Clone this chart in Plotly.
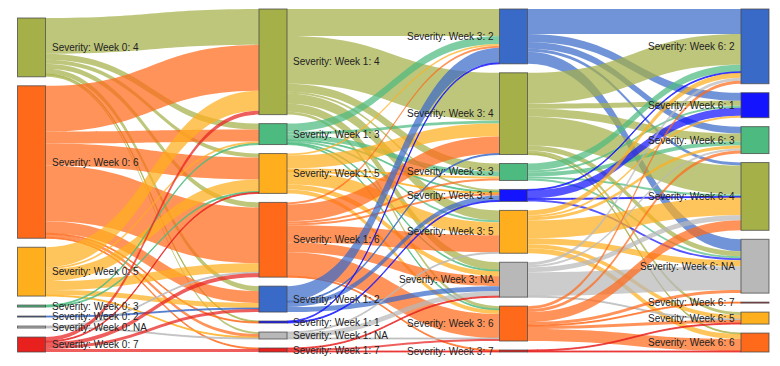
import plotly.graph_objects as go

# ---------------- data ----------------
weeks = ["Week 0", "Week 1", "Week 3", "Week 6"]
col0_levels = ["4", "6", "5", "3", "2", "NA", "7"]
col1_levels = ["4", "3", "5", "6", "2", "1", "NA", "7"]
col2_levels = ["2", "4", "3", "1", "5", "NA", "6", "7"]
col3_levels = ["2", "1", "3", "4", "NA", "7", "5", "6"]

flows_w0_w1 = [
    ("4", "4", 36), ("4", "3", 6), ("4", "5", 4), ("4", "6", 5), ("4", "2", 5), ("4", "1", 1), ("4", "NA", 2),
    ("6", "4", 46), ("6", "3", 12), ("6", "5", 22), ("6", "6", 56), ("6", "2", 12), ("6", "1", 1), ("6", "NA", 3), ("6", "7", 1),
    ("5", "4", 20), ("5", "3", 2), ("5", "5", 12), ("5", "6", 9), ("5", "2", 5), ("5", "NA", 1),
    ("3", "3", 1), ("3", "5", 1),
    ("2", "2", 1),
    ("NA", "NA", 1), ("NA", "6", 1),
    ("7", "4", 4), ("7", "5", 1), ("7", "6", 4), ("7", "2", 3), ("7", "7", 3),
]
flows_w1_w3 = [
    ("4", "2", 27), ("4", "4", 48), ("4", "3", 8), ("4", "1", 2), ("4", "5", 10), ("4", "NA", 8), ("4", "6", 3),
    ("3", "2", 8), ("3", "4", 3), ("3", "3", 5), ("3", "1", 1), ("3", "5", 2), ("3", "NA", 1), ("3", "6", 1),
    ("5", "2", 2), ("5", "4", 13), ("5", "3", 2), ("5", "1", 1), ("5", "5", 13), ("5", "NA", 5), ("5", "6", 4),
    ("6", "2", 2), ("6", "4", 17), ("6", "3", 2), ("6", "1", 2), ("6", "5", 17), ("6", "NA", 10), ("6", "6", 24), ("6", "7", 1),
    ("2", "2", 15), ("2", "1", 5), ("2", "NA", 5), ("2", "4", 1),
    ("1", "2", 1), ("1", "1", 1),
    ("NA", "NA", 5), ("NA", "6", 1), ("NA", "5", 1),
    ("7", "6", 2), ("7", "7", 1), ("7", "NA", 1),
]
flows_w3_w6 = [
    ("2", "2", 25), ("2", "1", 8), ("2", "3", 7), ("2", "4", 3), ("2", "NA", 12),
    ("4", "2", 31), ("4", "1", 5), ("4", "3", 8), ("4", "4", 29), ("4", "NA", 5), ("4", "5", 3), ("4", "6", 1),
    ("3", "2", 7), ("3", "1", 2), ("3", "3", 4), ("3", "4", 2), ("3", "NA", 2),
    ("1", "2", 1), ("1", "1", 8), ("1", "4", 1), ("1", "NA", 2),
    ("5", "2", 5), ("5", "1", 2), ("5", "3", 3), ("5", "4", 18), ("5", "NA", 6), ("5", "5", 4), ("5", "6", 5),
    ("NA", "2", 3), ("NA", "3", 2), ("NA", "4", 5), ("NA", "NA", 24), ("NA", "5", 1),
    ("6", "2", 3), ("6", "3", 3), ("6", "4", 10), ("6", "NA", 3), ("6", "7", 1), ("6", "5", 3), ("6", "6", 12),
    ("7", "5", 1), ("7", "6", 1),
]

# ---------------- styles / layout ----------------
level_colors = {
    "4": (165, 176, 72),
    "6": (255, 106, 26),
    "5": (255, 174, 30),
    "3": (77, 187, 127),
    "2": (58, 106, 200),
    "1": (20, 20, 255),
    "NA": (184, 184, 184),
    "7": (232, 32, 30),
}
W = 780
col_cx = [23.5, 265.0, 505.5, 747.0]   # node centres within the paper, px
H = 343.0
PAD = 9.0
TOP = 1
THICK = 28

columns = [col0_levels, col1_levels, col2_levels, col3_levels]
transitions = [flows_w0_w1, flows_w1_w3, flows_w3_w6]

labels, colors, idx, cols = [], [], {}, []
for c, levels in enumerate(columns):
    for lv in levels:
        idx[(c, lv)] = len(labels)
        labels.append(f"Severity: {weeks[c]}: {lv}")
        cols.append(c)
        r, g, b = level_colors[lv]
        colors.append(f"rgb({r},{g},{b})")

src, tgt, val, lcol = [], [], [], []
inflow = [0] * len(labels)
outflow = [0] * len(labels)
for c, flows in enumerate(transitions):
    for s, t, v in flows:
        i, j = idx[(c, s)], idx[(c + 1, t)]
        src.append(i); tgt.append(j); val.append(v)
        inflow[j] += v; outflow[i] += v
        r, g, b = level_colors[s]
        lcol.append(f"rgba({r},{g},{b},0.72)")

node_val = [max(a, b) for a, b in zip(inflow, outflow)]
ky = min((H - (len(levels) - 1) * PAD) / sum(node_val[idx[(c, lv)]] for lv in levels)
         for c, levels in enumerate(columns))

xs, ys = [0.0] * len(labels), [0.0] * len(labels)
for c, levels in enumerate(columns):
    total = sum(node_val[idx[(c, lv)]] for lv in levels) * ky + (len(levels) - 1) * PAD
    pos = H - total
    for lv in levels:
        i = idx[(c, lv)]
        h = node_val[i] * ky
        xs[i] = col_cx[c] / W
        ys[i] = (pos + h / 2) / H
        pos += h + PAD

annotations = []
for i, lab in enumerate(labels):
    c = cols[i]
    cx = xs[i] * W
    if c < 2:
        ax, anchor = cx + THICK / 2 + 4, "left"
    else:
        ax, anchor = cx - THICK / 2 - 4, "right"
    annotations.append(dict(
        text=lab, x=ax / W, y=1 - ys[i], xref="paper", yref="paper",
        xanchor=anchor, yanchor="middle", showarrow=False,
        font=dict(family="Liberation Sans, Arial, sans-serif", size=10, color="#222"),
    ))

fig = go.Figure(go.Sankey(
    arrangement="snap",
    node=dict(label=labels, color=colors, x=xs, y=ys, pad=PAD, thickness=THICK,
              line=dict(color="rgba(70,70,70,0.75)", width=1)),
    link=dict(source=src, target=tgt, value=val, color=lcol),
    textfont=dict(size=1, color="rgba(0,0,0,0)"),
))
fig.update_layout(width=W, height=366, margin=dict(l=0, r=0, t=TOP, b=366 - TOP - int(H)),
                  paper_bgcolor="white", annotations=annotations)
fig.write_html("out.html")
